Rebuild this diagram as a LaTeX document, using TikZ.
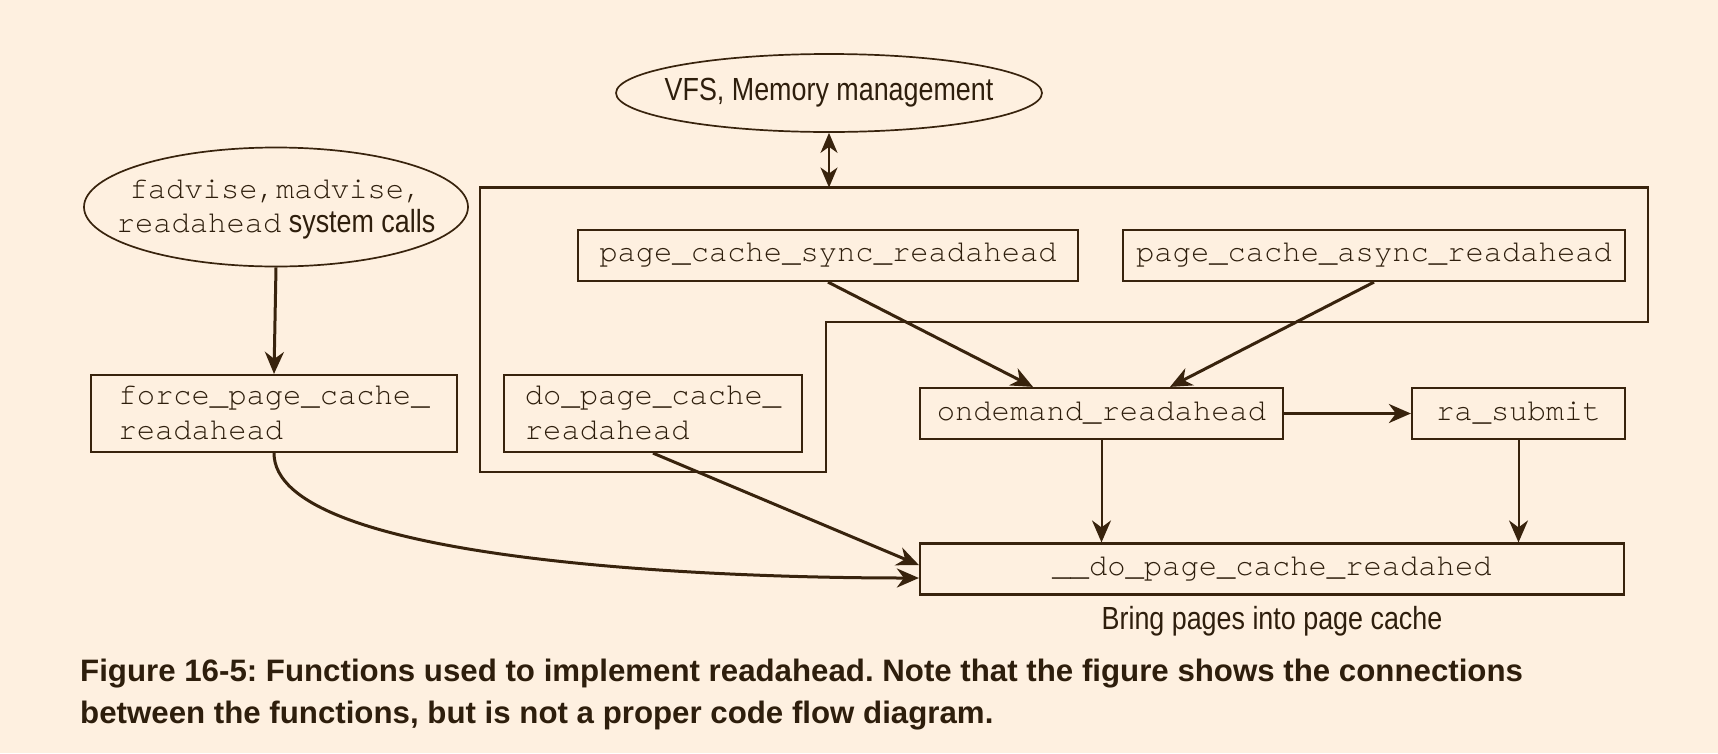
\documentclass[tikz,border=0pt]{standalone}
\usepackage{fontspec}
\setmainfont{Liberation Sans}
\newfontfamily\condsans[FakeStretch=0.84]{Liberation Sans}
\newfontfamily\capsans[FakeStretch=1.008]{Liberation Sans}
\setmonofont{TeX Gyre Cursor}
\usetikzlibrary{arrows.meta,shapes.geometric}
\definecolor{bg}{HTML}{FEF0E0}
\definecolor{ink}{HTML}{38230D}
\definecolor{txt}{HTML}{2E1E0C}
\frenchspacing
\tikzset{
  box/.style={draw=ink, line width=2.2pt, rectangle, inner sep=0pt, text=txt,
    font=\ttfamily\fontsize{30.5}{35}\selectfont, align=left},
  oval/.style={draw=ink, line width=1.7pt, ellipse, inner sep=0pt},
  tip/.style={-{Stealth[length=22pt,width=19pt,inset=7pt]}},
  thickarrow/.style={tip, draw=ink, line width=3pt},
  thinarrow/.style={tip, draw=ink, line width=2pt},
  outline/.style={draw=ink, line width=2.2pt},
  sans/.style={font=\condsans\fontsize{32}{36}\selectfont, text=txt},
  captext/.style={anchor=base west, inner sep=0pt, text=txt, font=\capsans\bfseries\fontsize{31}{36}\selectfont},
}
\begin{document}
\begin{tikzpicture}[x=1pt,y=-1pt]
\fill[bg] (0,0) rectangle (1718,753);
\useasboundingbox (0,0) rectangle (1718,753);

% outer outline
\draw[outline] (480,187.5) -- (1648,187.5) -- (1648,322) -- (826,322) -- (826,472) -- (480,472) -- cycle;
\coordinate (otop) at (829,187.5);

% ellipses
\node[oval, minimum width=426pt, minimum height=78pt,
  label={[sans, inner sep=0pt]center:{VFS, Memory management}}] (vfs) at (829,93) {};
\node[oval, minimum width=384pt, minimum height=119pt,
  label={[inner sep=0pt, yshift=-3pt, align=center, text=txt, font=\ttfamily\fontsize{30.5}{34}\selectfont]center:{fadvise,madvise,\\readahead{\condsans\fontsize{32}{34}\selectfont\ system calls}}}] (sys) at (276,207) {};

% boxes
\node[box, minimum width=500pt, minimum height=51pt] (sync) at (828,255.5) {page\_cache\_sync\_readahead};
\node[box, minimum width=502pt, minimum height=51pt] (async) at (1374,255.5) {page\_cache\_async\_readahead};
\node[box, minimum width=366pt, minimum height=77pt] (force) at (274,413.5) {force\_page\_cache\_\\readahead};
\node[box, minimum width=298pt, minimum height=77pt] (dopc) at (653,413.5) {do\_page\_cache\_\\readahead};
\node[box, minimum width=363pt, minimum height=51pt] (ond) at (1101.5,413.5) {ondemand\_readahead};
\node[box, minimum width=213pt, minimum height=51pt] (ras) at (1518.5,413.5) {ra\_submit};
\node[box, minimum width=704pt, minimum height=51pt] (ddo) at (1272,569) {\_\_do\_page\_cache\_readahed};

\node[sans, anchor=base] (bring) at (1272,629) {Bring pages into page cache};

% caption
\node[captext] (cap1) at (80,681)
  {Figure 16-5: Functions used to implement readahead. Note that the figure shows the connections};
\node[captext] (cap2) at (80,723)
  {between the functions, but is not a proper code flow diagram.};

% connectors
\draw[draw=ink, line width=2pt, {Stealth[length=20pt,width=17pt,inset=6pt]}-{Stealth[length=20pt,width=17pt,inset=6pt]}] (vfs.south) -- (otop);
\draw[thickarrow] (sys.south) -- (force.north);
\draw[thickarrow] (sync.south) -- ([xshift=-68.5pt]ond.north);
\draw[thickarrow] (async.south) -- ([xshift=68.5pt]ond.north);
\draw[thickarrow] (ond.east) -- (ras.west);
\draw[thinarrow] (ond.south) -- (ond.south |- ddo.north);
\draw[thinarrow] (ras.south) -- (ras.south |- ddo.north);
\draw[thickarrow] (dopc.south) -- ([yshift=4pt]ddo.west);
\draw[thickarrow] (force.south) .. controls (274,560) and (700,578) .. ([yshift=-9pt]ddo.west);
\end{tikzpicture}
\end{document}
